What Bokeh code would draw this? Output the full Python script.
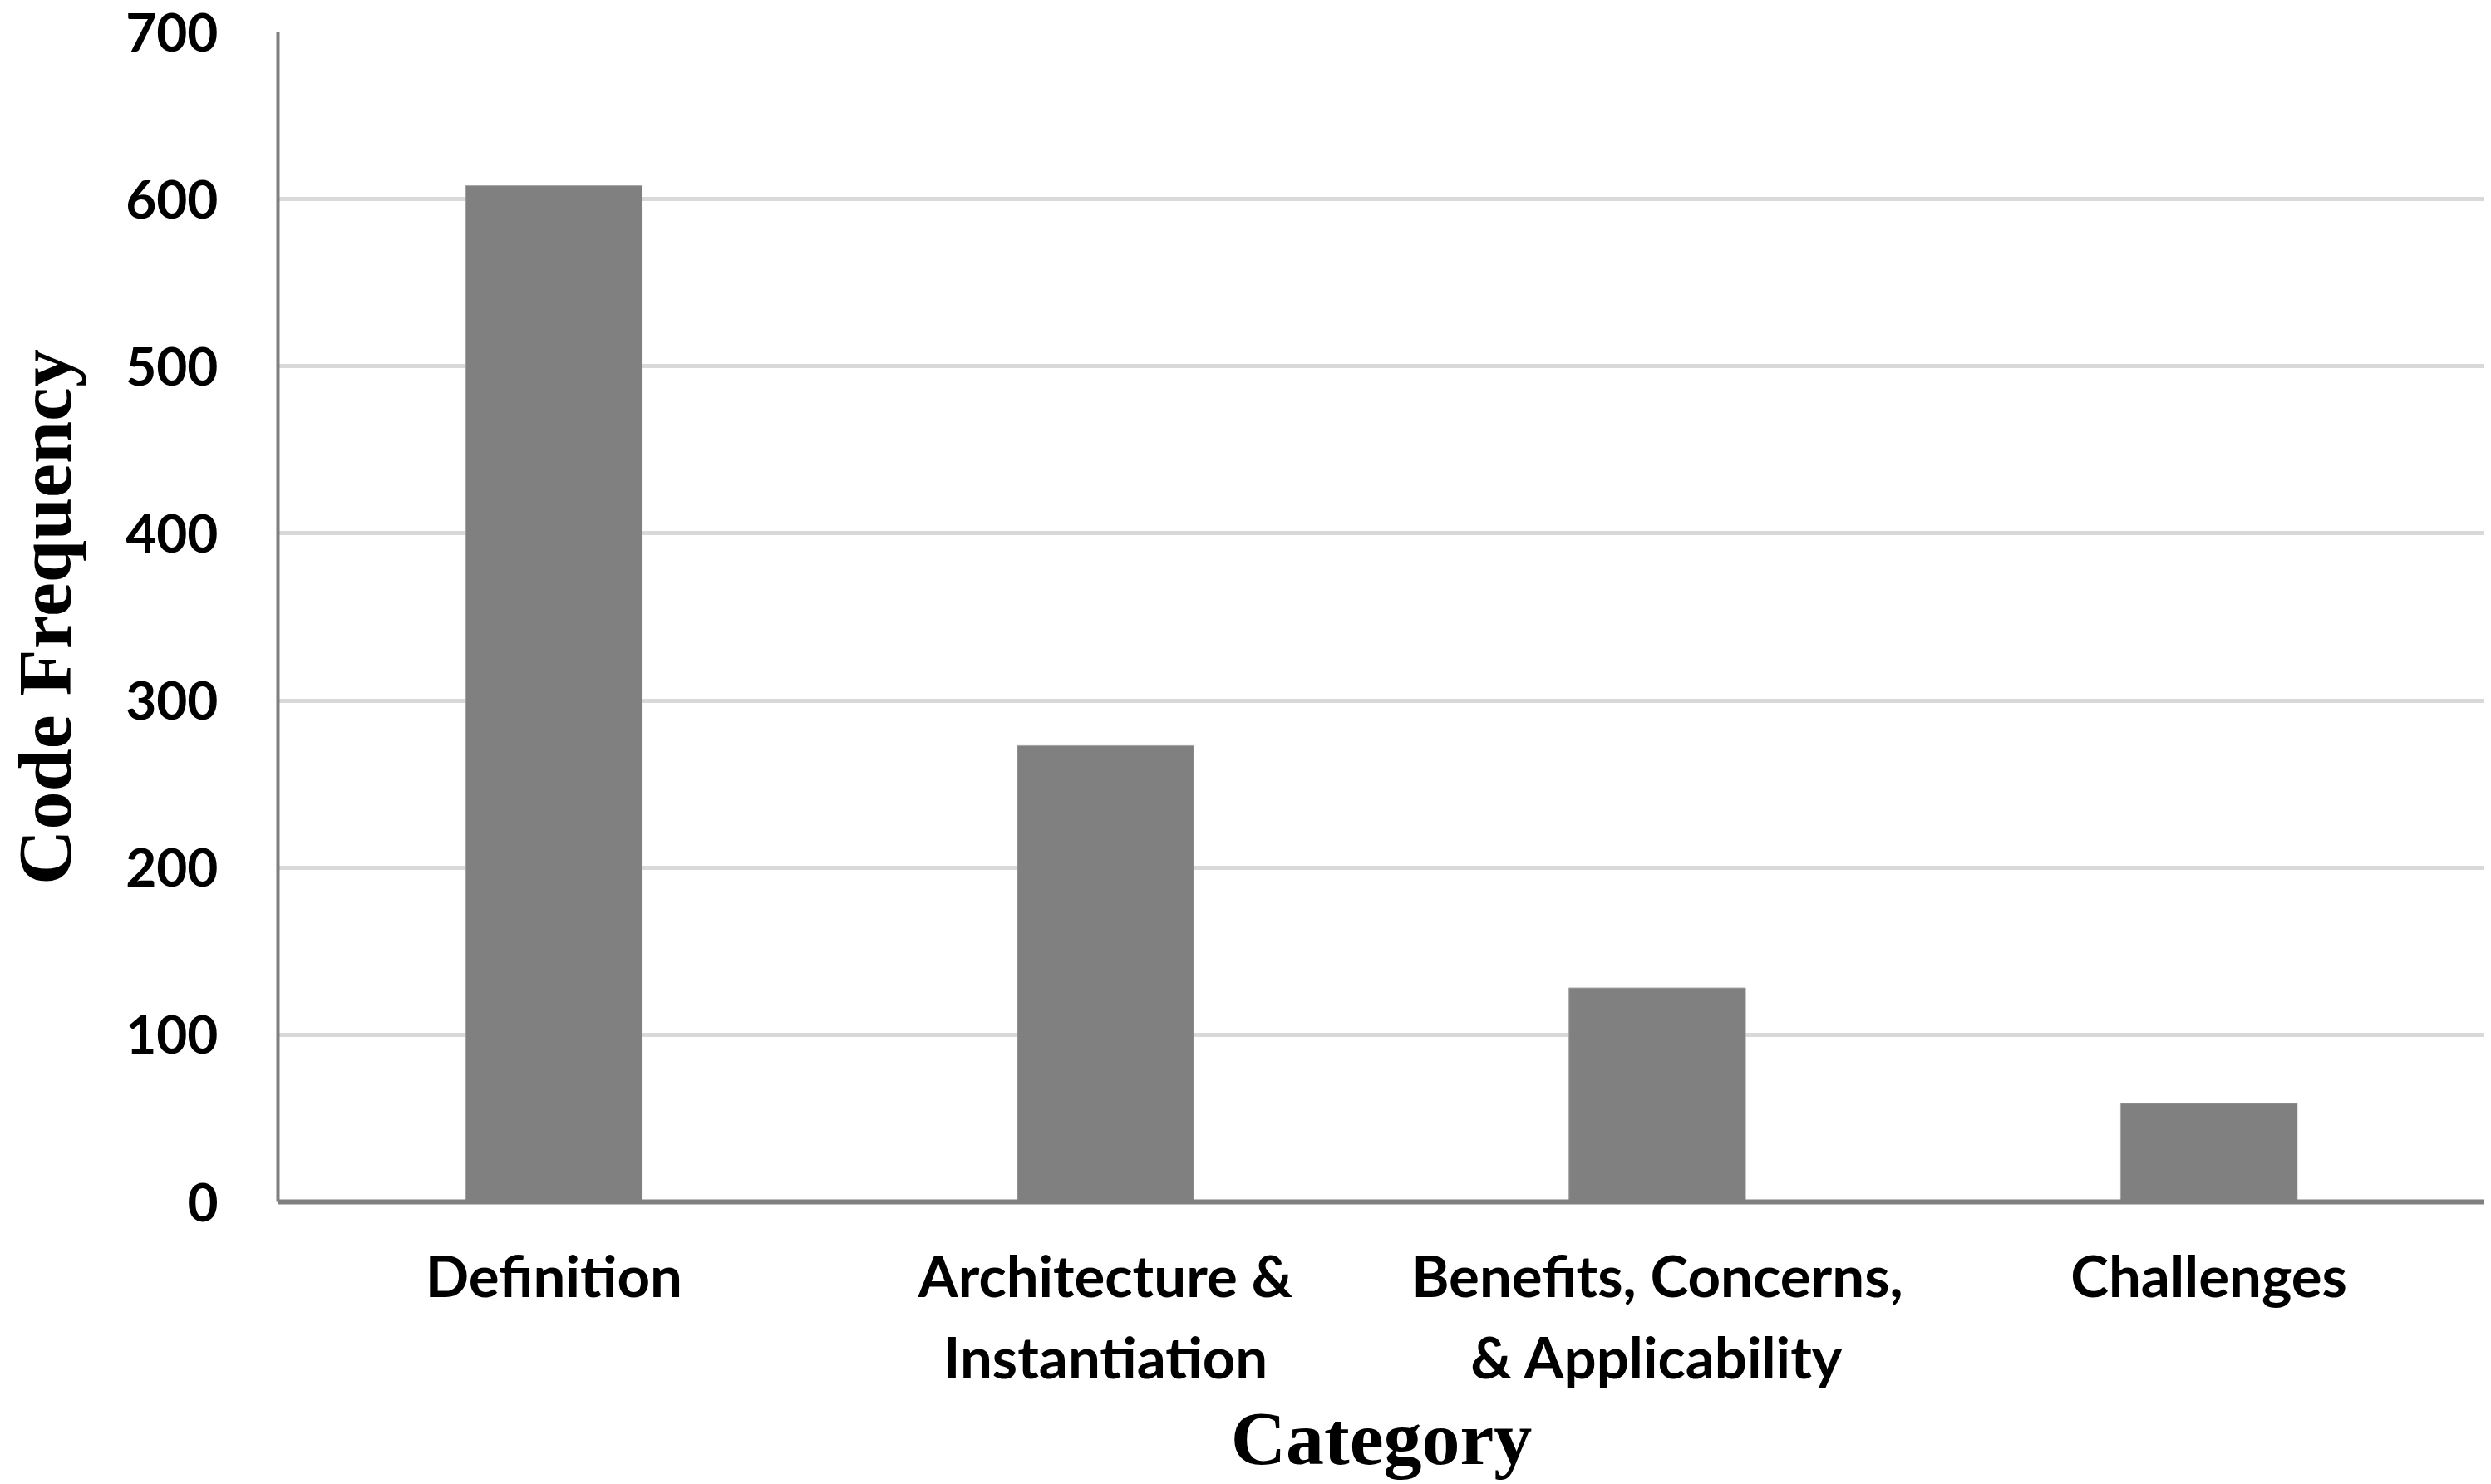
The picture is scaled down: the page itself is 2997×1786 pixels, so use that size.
from bokeh.plotting import figure
from bokeh.models import Range1d, FixedTicker, CategoricalAxis, CustomJSTickFormatter
from bokeh.embed import file_html
from bokeh.resources import INLINE

categories = ["Definition", "Architecture & Instantiation",
              "Benefits, Concerns, & Applicability", "Challenges"]
label_line1 = ["Definition", "Architecture &", "Benefits, Concerns,", "Challenges"]
label_line2 = ["", "Instantiation", "& Applicability", ""]
values = [608, 273, 128, 59]
y_ticks = [0, 100, 200, 300, 400, 500, 600, 700]

p = figure(x_range=categories, y_range=Range1d(0, 700),
           width=2989, height=1784, output_backend="svg",
           toolbar_location=None, min_border_left=300, min_border_top=38,
           min_border_right=0, min_border_bottom=300)
p.outline_line_color = None
p.background_fill_color = "white"
p.border_fill_color = "white"

p.vbar(x=categories, top=values, width=0.32, fill_color="#808080",
       line_color="#a6a6a6", line_width=1)

p.xgrid.grid_line_color = None
p.ygrid.grid_line_color = "#d9d9d9"
p.ygrid.grid_line_width = 5
p.yaxis.ticker = FixedTicker(ticks=y_ticks)

x2 = CategoricalAxis()
p.add_layout(x2, "below")

def style(ax, size):
    ax.major_tick_line_color = None
    ax.minor_tick_line_color = None
    ax.major_tick_out = 0
    ax.major_tick_in = 0
    ax.axis_line_color = "#808080"
    ax.major_label_text_font = "Lato"
    ax.major_label_text_font_style = "bold"
    ax.major_label_text_font_size = size
    ax.major_label_text_color = "black"
    ax.axis_label_text_font = "Liberation Serif"
    ax.axis_label_text_font_style = "bold"
    ax.axis_label_text_font_size = "92px"
    ax.axis_label_text_color = "black"

def line_formatter(lines):
    return CustomJSTickFormatter(
        args=dict(cats=categories, labs=lines),
        code="const i = cats.indexOf(tick); return i >= 0 ? labs[i] : '';")

x1 = p.xaxis[0]
style(x1, "69px")
style(x2, "69px")
style(p.yaxis[0], "64px")

x1.formatter = line_formatter(label_line1)
x1.major_label_standoff = 46
x1.axis_line_width = 6

x2.formatter = line_formatter(label_line2)
x2.axis_line_color = None
x2.major_label_standoff = 12
x2.axis_label = "Category"
x2.axis_label_standoff = 3

p.yaxis.axis_label = "Code Frequency"
p.yaxis.axis_line_width = 4
p.yaxis.major_label_standoff = 72
p.yaxis.axis_label_standoff = 43

open("out.html", "w").write(file_html(p, INLINE))
